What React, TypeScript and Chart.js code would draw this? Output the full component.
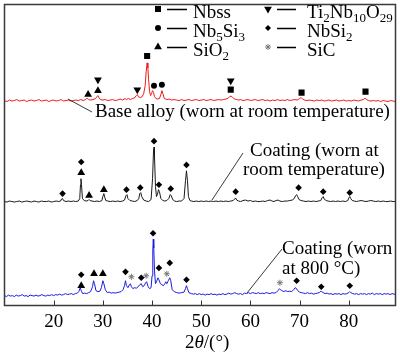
import React, { useEffect, useRef } from 'react';
import { Chart, registerables } from 'chart.js';

Chart.register(...registerables);

// ---- data (2θ in degrees, intensity in arbitrary offset units) ----
const X_MIN = 10;
const X_MAX = 89.5;
const Y_MIN = 0;
const Y_MAX = 304;
const xTicks = [20, 30, 40, 50, 60, 70, 80];

const baseAlloyTrace: [number, number][] = [
  [10, 207], [10.5, 206], [11, 207.5], [11.5, 206.5], [12, 207], [12.5, 208], [13, 206.5], [13.5, 207], [14, 207.5], [14.5, 206],
  [15, 207], [15.5, 207.5], [16, 206.5], [16.5, 207], [17, 208], [17.5, 206.5], [18, 207], [18.5, 207.5], [19, 206], [19.5, 207],
  [20, 207.5], [20.5, 206.5], [21, 207], [21.5, 208], [22, 206.5], [22.5, 207], [23, 207.5], [23.5, 206.5], [24, 207], [24.5, 207.5],
  [25, 207], [25.5, 208], [26, 207], [26.5, 208], [26.8, 209.5], [27.1, 208], [27.5, 207.5], [28, 208], [28.5, 209], [28.8, 211],
  [29, 212], [29.2, 210], [29.5, 208], [30, 207.5], [30.5, 208], [31, 207], [31.5, 207.5], [32, 208], [32.5, 207], [33, 207.5],
  [33.5, 208.5], [34, 207.5], [34.5, 209], [34.8, 208], [35.2, 209], [35.6, 208], [36, 209], [36.4, 209.5], [36.8, 212], [37, 213],
  [37.2, 211], [37.6, 210], [38, 211], [38.3, 214], [38.6, 222], [38.8, 236], [39, 245], [39.15, 240], [39.3, 228], [39.5, 216],
  [39.7, 212], [39.9, 214], [40.1, 217], [40.3, 215], [40.5, 211], [40.8, 209], [41.1, 208.5], [41.5, 209], [41.8, 213], [42, 217],
  [42.2, 214], [42.5, 209], [43, 208], [43.5, 208.5], [44, 207.5], [44.5, 208], [45, 207.5], [45.5, 207], [46, 208], [46.5, 207],
  [47, 207.5], [47.5, 208], [48, 207], [48.5, 207.5], [49, 208], [49.5, 207], [50, 207.5], [50.5, 208], [51, 207], [51.5, 207.5],
  [52, 208], [52.5, 207], [53, 207.5], [53.5, 208], [54, 207.5], [54.5, 208], [55, 208.5], [55.5, 209.5], [55.8, 211], [56.1, 211.5],
  [56.4, 210], [56.8, 208.5], [57.2, 208], [57.6, 207.5], [58, 208], [58.5, 207], [59, 207.5], [59.5, 208], [60, 207], [60.5, 207.5],
  [61, 208], [61.5, 207], [62, 207.5], [62.5, 208], [63, 207], [63.5, 207.5], [64, 206.5], [64.5, 207.5], [65, 207], [65.5, 208],
  [66, 207], [66.5, 207.5], [67, 207], [67.5, 208], [68, 207], [68.5, 207.5], [69, 208], [69.5, 207.5], [70, 209], [70.3, 210],
  [70.6, 208.5], [71, 207.5], [71.5, 207], [72, 207.5], [72.5, 207], [73, 206.5], [73.5, 207.5], [74, 207], [74.5, 207.5], [75, 206.5],
  [75.5, 207], [76, 207.5], [76.5, 206.5], [77, 207], [77.5, 207.5], [78, 206.5], [78.5, 207], [79, 207.5], [79.5, 206.5], [80, 207],
  [80.5, 206.5], [81, 207.5], [81.5, 207], [82, 206.5], [82.5, 207.5], [83, 208], [83.3, 209.5], [83.6, 208], [84, 207], [84.5, 206.5],
  [85, 207], [85.5, 206.5], [86, 207], [86.5, 206], [87, 207], [87.5, 206.5], [88, 206], [88.5, 207], [89, 206.5], [89.5, 206],
];

const coatingRoomTrace: [number, number][] = [
  [10, 105], [10.5, 104.5], [11, 105.5], [11.5, 105], [12, 104.5], [12.5, 105], [13, 105.5], [13.5, 104.5], [14, 105], [14.5, 105.5],
  [15, 105], [15.5, 104.5], [16, 105.5], [16.5, 105], [17, 104.5], [17.5, 105.5], [18, 105], [18.5, 105], [19, 105.5], [19.5, 104.5],
  [20, 105], [20.5, 105.5], [21, 105], [21.4, 105.5], [21.6, 107.5], [21.8, 108], [22, 106], [22.5, 105], [23, 105.5], [23.5, 105],
  [24, 105.5], [24.5, 105], [25, 105.5], [25.3, 108], [25.45, 122], [25.55, 128], [25.65, 122], [25.85, 108], [26.2, 106], [26.6, 105.5],
  [27, 106], [27.2, 107], [27.4, 106], [27.8, 105.5], [28.3, 105], [28.8, 105.5], [29.3, 105], [29.8, 106], [30, 110], [30.2, 113],
  [30.4, 109], [30.6, 106], [31, 105.5], [31.5, 105], [32, 105.5], [32.5, 105], [33, 105.5], [33.5, 105], [34, 105.5], [34.4, 106.5],
  [34.7, 111], [34.9, 112], [35.1, 108], [35.5, 106], [36, 105.5], [36.5, 105], [37, 106], [37.3, 108], [37.5, 113], [37.7, 114],
  [37.9, 110], [38.3, 106.5], [38.8, 105.5], [39.3, 105], [39.8, 107], [40.1, 128], [40.3, 156], [40.4, 160], [40.5, 150], [40.7, 120],
  [40.9, 110], [41.1, 112], [41.3, 117], [41.5, 115], [41.8, 108], [42.2, 106], [42.6, 105.5], [43, 106], [43.4, 108], [43.7, 112],
  [43.9, 111], [44.2, 107], [44.6, 105.5], [45, 105], [45.5, 105.5], [46, 105.5], [46.5, 108], [46.8, 126], [47, 136], [47.2, 126],
  [47.4, 110], [47.7, 106], [48, 105.5], [48.5, 105], [49, 105.5], [49.5, 105], [50, 105.5], [50.5, 105], [51, 105.5], [51.5, 105],
  [52, 105.5], [52.5, 105], [53, 105.5], [53.5, 105], [54, 105.5], [54.5, 105], [55, 105.5], [55.5, 105], [56, 105.5], [56.5, 106],
  [56.8, 107.5], [57, 108.5], [57.2, 106.5], [57.6, 105.5], [58, 105], [58.5, 106], [59, 106.5], [59.5, 105.5], [60, 106], [60.5, 105],
  [61, 105.5], [61.5, 105], [62, 105], [62.5, 105.5], [63, 105], [63.5, 106], [64, 106.5], [64.4, 105.5], [64.8, 105], [65.2, 106],
  [65.6, 106.5], [66, 105.5], [66.5, 105], [67, 105.5], [67.5, 105.5], [68, 106], [68.5, 106.5], [68.9, 108], [69.2, 111], [69.4, 112],
  [69.6, 110], [69.9, 107], [70.3, 106], [70.8, 105.5], [71.3, 105], [71.8, 105.5], [72.3, 105], [72.8, 105.5], [73.3, 105], [73.8, 105.5],
  [74.3, 106], [74.6, 109], [74.8, 110], [75, 107.5], [75.4, 106], [75.8, 105.5], [76.3, 105], [76.8, 105.5], [77.3, 105], [77.8, 105.5],
  [78.3, 105], [78.8, 105.5], [79.3, 105], [79.8, 106], [80, 108.5], [80.2, 110], [80.4, 108], [80.7, 106], [81.1, 105.5], [81.6, 105],
  [82, 105.5], [82.5, 106], [83, 105.5], [83.5, 105], [84, 105.5], [84.5, 106], [85, 105.5], [85.5, 105], [86, 105.5], [86.5, 105],
  [87, 105.5], [87.5, 105], [88, 105], [88.5, 105.5], [89, 105], [89.5, 105],
];

const coating800Trace: [number, number][] = [
  [10, 10], [10.4, 9], [10.8, 10.5], [11.2, 9.5], [11.6, 10], [12, 9], [12.4, 10.5], [12.8, 9.5], [13.2, 10], [13.6, 11],
  [14, 9.5], [14.4, 10], [14.8, 9], [15.2, 10.5], [15.6, 10], [16, 9.5], [16.4, 10.5], [16.8, 9.5], [17.2, 10], [17.6, 11],
  [18, 10], [18.4, 9.5], [18.8, 10.5], [19.2, 10], [19.6, 11], [20, 10], [20.4, 11], [20.8, 10.5], [21.2, 11.5], [21.6, 10.5],
  [22, 11], [22.4, 12], [22.8, 11], [23.2, 11.5], [23.6, 12], [24, 11], [24.4, 12], [24.8, 12.5], [25.1, 14], [25.4, 18],
  [25.6, 15], [25.9, 12], [26.3, 12.5], [26.7, 12], [27.1, 13], [27.5, 14], [27.9, 19], [28.1, 25], [28.3, 22], [28.6, 15],
  [29, 14], [29.4, 14.5], [29.7, 18], [30, 25], [30.2, 22], [30.5, 16], [30.9, 13], [31.3, 13.5], [31.7, 12.5], [32.1, 13],
  [32.5, 12.5], [32.9, 13], [33.3, 13.5], [33.7, 14], [34.1, 16], [34.4, 20], [34.6, 25], [34.8, 20], [35.1, 18], [35.4, 21],
  [35.6, 22], [35.8, 19], [36.1, 17], [36.4, 18], [36.8, 17.5], [37.2, 19], [37.5, 21], [37.8, 22], [38.1, 19], [38.4, 20],
  [38.7, 23], [38.9, 24], [39.2, 19], [39.5, 17], [39.8, 18], [40, 30], [40.15, 55], [40.25, 67], [40.35, 58], [40.5, 35],
  [40.7, 22], [40.9, 24], [41.2, 28], [41.4, 26], [41.7, 22], [42, 21], [42.3, 20], [42.6, 22], [42.8, 24], [43, 22],
  [43.3, 25], [43.6, 28], [43.8, 25], [44.1, 16], [44.5, 14], [45, 13], [45.5, 12.5], [46, 13], [46.5, 13.5], [46.8, 17],
  [47, 20], [47.2, 17], [47.5, 13], [48, 12], [48.4, 11.5], [48.8, 12], [49.2, 11], [49.6, 12], [50, 11], [50.4, 11.5],
  [50.8, 10.5], [51.2, 11.5], [51.6, 11], [52, 12], [52.4, 11], [52.8, 11.5], [53.2, 10.5], [53.6, 11.5], [54, 11], [54.4, 12],
  [54.8, 11], [55.2, 11.5], [55.6, 12.5], [56, 11.5], [56.4, 12], [56.8, 13], [57.2, 12], [57.6, 11.5], [58, 12], [58.4, 11],
  [58.8, 12.5], [59.2, 12], [59.6, 13], [60, 12], [60.4, 13], [60.8, 12.5], [61.2, 12], [61.6, 13], [62, 12], [62.4, 12.5],
  [62.8, 12], [63.2, 13], [63.6, 12.5], [64, 12], [64.4, 13], [64.8, 12.5], [65.2, 13], [65.6, 15], [65.9, 17], [66.1, 16],
  [66.4, 15], [66.8, 14], [67.2, 15], [67.6, 14], [68, 14.5], [68.4, 14], [68.8, 16], [69.1, 18], [69.3, 17.5], [69.6, 15],
  [70, 13.5], [70.4, 13], [70.8, 12.5], [71.2, 12], [71.6, 13], [72, 12], [72.4, 12.5], [72.8, 11.5], [73.2, 12], [73.6, 12.5],
  [74, 13], [74.3, 14.5], [74.5, 14], [74.8, 13], [75.2, 12], [75.6, 12.5], [76, 11.5], [76.4, 12], [76.8, 11], [77.2, 12],
  [77.6, 11.5], [78, 12], [78.4, 11], [78.8, 12], [79.2, 11.5], [79.6, 12], [80, 13], [80.2, 14], [80.4, 13], [80.8, 12],
  [81.2, 11.5], [81.6, 12], [82, 11], [82.4, 12], [82.8, 11.5], [83.2, 12], [83.6, 11], [84, 12], [84.4, 11.5], [84.8, 12.5],
  [85.2, 11], [85.6, 12], [86, 11.5], [86.4, 12], [86.8, 11], [87.2, 12], [87.6, 11.5], [88, 12], [88.4, 11], [88.8, 12],
  [89.2, 11.5], [89.5, 11],
];

// phase markers [2θ, height]
const nbssMarks: [number, number][] = [[39, 252], [56, 218], [70.4, 215], [83.4, 216]];
const nb5si3Marks: [number, number][] = [[40.4, 222], [42, 223]];
const sio2Marks: [number, number][] = [
  [27, 213], [29, 217],
  [25.6, 134], [27.2, 111], [30.2, 117],
  [25.6, 20], [28.2, 32], [30, 32],
];
const tiNbOMarks: [number, number][] = [[29, 228], [37, 218], [56, 227]];
const nbsi2Marks: [number, number][] = [
  [21.8, 113], [25.6, 145], [34.8, 117], [37.6, 119], [40.4, 166], [41.4, 122], [43.8, 118], [47, 142],
  [57, 115], [69.8, 119], [74.8, 115], [80.2, 114],
  [25.6, 31], [34.6, 34], [37.8, 28], [40.2, 73], [41.4, 38], [43.6, 43], [47, 26], [69.4, 25], [74.4, 19], [80.2, 20],
];
const sicMarks: [number, number][] = [[35.8, 29], [38.8, 30], [43, 32], [66, 23]];

const FAMILY = '"Liberation Serif", "Times New Roman", serif';
const MAIN_FONT = `19px ${FAMILY}`;
const SUB_FONT = `13px ${FAMILY}`;

const toXY = (arr: [number, number][]) => arr.map(([x, y]) => ({ x, y }));

type Part = [string, boolean];
function rich(ctx: CanvasRenderingContext2D, parts: Part[], x: number, y: number) {
  let cx = x;
  for (const [t, sub] of parts) {
    ctx.font = sub ? SUB_FONT : MAIN_FONT;
    ctx.fillText(t, cx, sub ? y + 4 : y);
    cx += ctx.measureText(t).width;
  }
}

function sym(ctx: CanvasRenderingContext2D, kind: string, x: number, y: number) {
  ctx.beginPath();
  ctx.fillStyle = '#000';
  if (kind === 'square') {
    ctx.rect(x - 3, y - 3, 6, 6);
    ctx.fill();
  } else if (kind === 'circle') {
    ctx.arc(x, y, 3, 0, Math.PI * 2);
    ctx.fill();
  } else if (kind === 'tri') {
    ctx.moveTo(x, y - 4.5);
    ctx.lineTo(x + 3.9, y + 2.25);
    ctx.lineTo(x - 3.9, y + 2.25);
    ctx.closePath();
    ctx.fill();
  } else if (kind === 'down') {
    ctx.moveTo(x, y + 4.5);
    ctx.lineTo(x + 3.9, y - 2.25);
    ctx.lineTo(x - 3.9, y - 2.25);
    ctx.closePath();
    ctx.fill();
  } else if (kind === 'diamond') {
    ctx.moveTo(x, y - 3);
    ctx.lineTo(x + 3, y);
    ctx.lineTo(x, y + 3);
    ctx.lineTo(x - 3, y);
    ctx.closePath();
    ctx.fill();
  } else if (kind === 'star') {
    ctx.strokeStyle = '#777';
    ctx.lineWidth = 1;
    for (let i = 0; i < 4; i++) {
      const a = (i * Math.PI) / 4;
      ctx.moveTo(x - 3 * Math.cos(a), y - 3 * Math.sin(a));
      ctx.lineTo(x + 3 * Math.cos(a), y + 3 * Math.sin(a));
    }
    ctx.stroke();
  }
}

const decor = {
  id: 'decor',
  afterDraw(chart: any) {
    const { ctx, chartArea: a } = chart;
    const xs = chart.scales.x;
    ctx.save();
    // inner tick marks
    ctx.strokeStyle = '#333';
    ctx.lineWidth = 1;
    xTicks.forEach((v) => {
      const px = Math.round(xs.getPixelForValue(v)) + 0.5;
      ctx.beginPath();
      ctx.moveTo(px, a.bottom);
      ctx.lineTo(px, a.bottom - 5);
      ctx.stroke();
    });
    // frame
    ctx.lineWidth = 1.5;
    ctx.strokeStyle = '#3a3a3a';
    ctx.strokeRect(a.left, a.top, a.right - a.left, a.bottom - a.top);

    // axis title 2θ/(°)
    ctx.fillStyle = '#000';
    ctx.textBaseline = 'alphabetic';
    ctx.textAlign = 'left';
    let tx = 185;
    const ty = 348;
    ctx.font = MAIN_FONT;
    ctx.fillText('2', tx, ty);
    tx += ctx.measureText('2').width;
    ctx.font = `italic 19px ${FAMILY}`;
    ctx.fillText('θ', tx, ty);
    tx += ctx.measureText('θ').width;
    ctx.font = MAIN_FONT;
    ctx.fillText('/(°)', tx, ty);

    // legend
    const rows = [9, 28, 47];
    const col1 = ['square', 'circle', 'tri'];
    const col2 = ['down', 'diamond', 'star'];
    const text1: Part[][] = [
      [['Nbss', false]],
      [['Nb', false], ['5', true], ['Si', false], ['3', true]],
      [['SiO', false], ['2', true]],
    ];
    const text2: Part[][] = [
      [['Ti', false], ['2', true], ['Nb', false], ['10', true], ['O', false], ['29', true]],
      [['NbSi', false], ['2', true]],
      [['SiC', false]],
    ];
    rows.forEach((ry, i) => {
      sym(ctx, col1[i], 158, ry);
      sym(ctx, col2[i], 268, ry);
      ctx.strokeStyle = '#000';
      ctx.lineWidth = 1.3;
      ctx.beginPath();
      ctx.moveTo(167, ry + 0.5);
      ctx.lineTo(187, ry + 0.5);
      ctx.moveTo(277, ry + 0.5);
      ctx.lineTo(296, ry + 0.5);
      ctx.stroke();
      ctx.fillStyle = '#000';
      rich(ctx, text1[i], 193, ry + 8.5);
      rich(ctx, text2[i], 307, ry + 8.5);
    });

    // annotations
    ctx.font = MAIN_FONT;
    ctx.fillStyle = '#000';
    ctx.fillText('Base alloy (worn at room temperature)', 95, 117);
    ctx.fillText('Coating (worn at', 250, 155.5);
    ctx.fillText('room temperature)', 243, 175);
    ctx.fillText('Coating (worn', 282, 254);
    ctx.fillText('at 800 °C)', 282, 273.5);
    ctx.strokeStyle = '#222';
    ctx.lineWidth = 0.9;
    ctx.beginPath();
    ctx.moveTo(68, 99);
    ctx.lineTo(92, 112);
    ctx.moveTo(212, 200);
    ctx.lineTo(243, 153);
    ctx.moveTo(247, 293);
    ctx.lineTo(282, 249);
    ctx.stroke();
    ctx.restore();
  },
};

function markerSet(data: [number, number][], style: string, radius: number, rotation = 0, color = '#000') {
  return {
    type: 'scatter' as const,
    data: toXY(data),
    showLine: false,
    pointStyle: style,
    pointRadius: radius,
    pointRotation: rotation,
    pointBackgroundColor: color,
    pointBorderColor: color,
    pointBorderWidth: style === 'star' ? 1 : 0,
    pointHoverRadius: radius,
  };
}

export default function App() {
  const ref = useRef<HTMLCanvasElement>(null);
  useEffect(() => {
    if (!ref.current) return;
    const chart = new Chart(ref.current, {
      type: 'line',
      data: {
        datasets: [
          { data: toXY(baseAlloyTrace), borderColor: '#f01818', borderWidth: 1, pointRadius: 0, tension: 0 },
          { data: toXY(coatingRoomTrace), borderColor: '#1a1a1a', borderWidth: 1, pointRadius: 0, tension: 0 },
          { data: toXY(coating800Trace), borderColor: '#1b1be0', borderWidth: 1, pointRadius: 0, tension: 0 },
          markerSet(nbssMarks, 'rect', 4.3) as any,
          markerSet(nb5si3Marks, 'circle', 3) as any,
          markerSet(sio2Marks, 'triangle', 4.5) as any,
          markerSet(tiNbOMarks, 'triangle', 4.5, 180) as any,
          markerSet(nbsi2Marks, 'rectRot', 3.3) as any,
          markerSet(sicMarks, 'star', 3, 0, '#777') as any,
        ],
      },
      options: {
        animation: false,
        responsive: false,
        maintainAspectRatio: false,
        layout: { padding: { left: 1, right: 1.3, top: 1, bottom: 0 } },
        plugins: { legend: { display: false }, tooltip: { enabled: false } },
        scales: {
          x: {
            type: 'linear',
            min: X_MIN,
            max: X_MAX,
            grid: { display: false, drawTicks: false },
            border: { display: false },
            ticks: {
              color: '#000',
              font: { family: FAMILY, size: 19 },
              padding: 5,
              maxRotation: 0,
              autoSkip: false,
            },
            afterBuildTicks: (s: any) => {
              s.ticks = xTicks.map((v) => ({ value: v }));
            },
            afterFit: (s: any) => {
              s.height = 47.5;
            },
          },
          y: { type: 'linear', display: false, min: Y_MIN, max: Y_MAX },
        },
      },
      plugins: [decor],
    });
    return () => chart.destroy();
  }, []);
  return (
    <div style={{ position: 'absolute', left: 0, top: 0, width: 400, height: 353 }}>
      <canvas ref={ref} width={400} height={353} style={{ display: 'block', width: 400, height: 353 }} />
    </div>
  );
}
